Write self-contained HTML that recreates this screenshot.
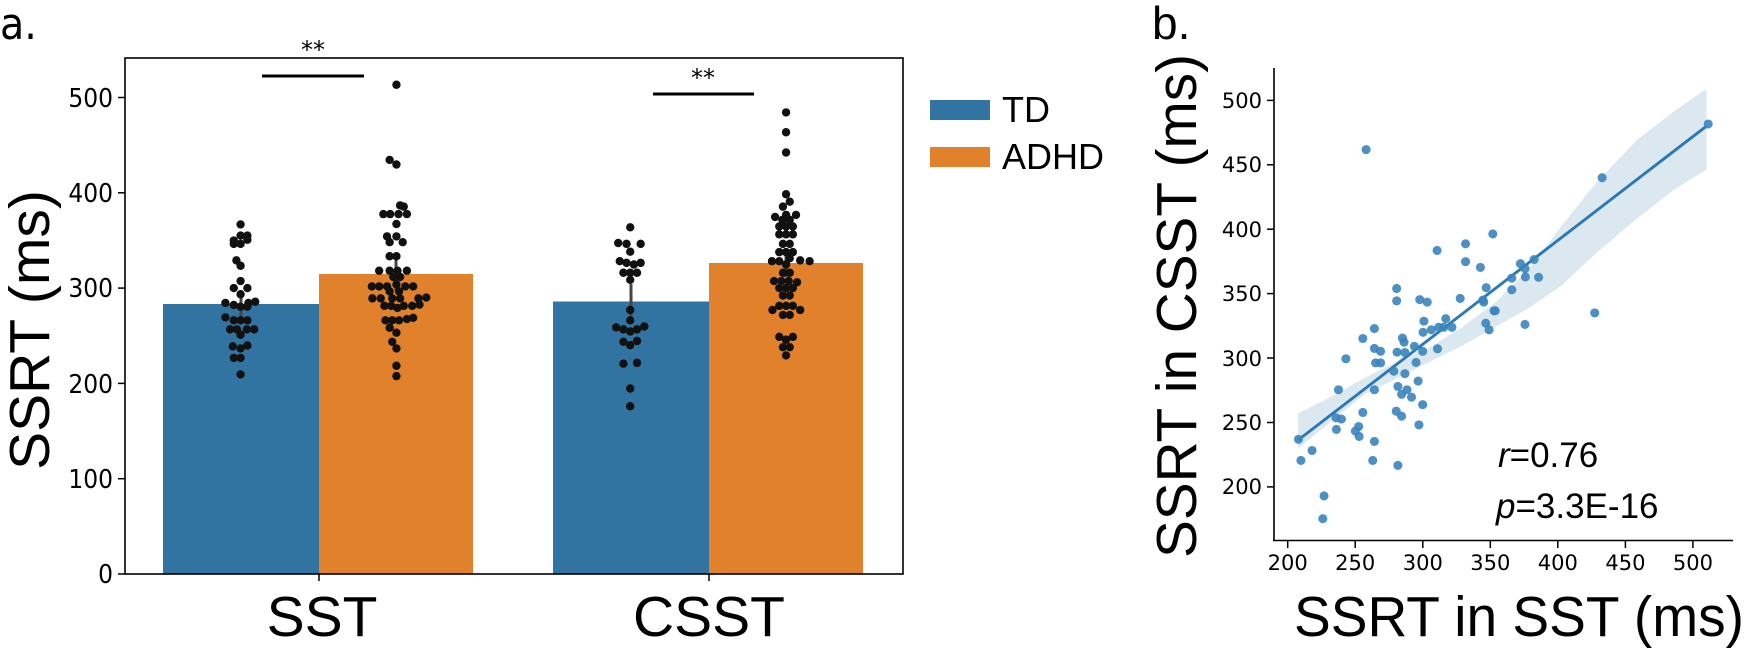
<!DOCTYPE html>
<html><head><meta charset="utf-8"><style>
html,body{margin:0;padding:0;background:#fff;}
svg{display:block;}
</style></head><body>
<svg width="1747" height="648" viewBox="0 0 1747 648" xmlns="http://www.w3.org/2000/svg">
<!-- Panel a -->
<text x="0" y="39" font-family="DejaVu Sans Condensed, DejaVu Sans, sans-serif" font-size="44">a.</text>
<!-- bars -->
<rect x="163" y="304" width="156" height="270" fill="#3274a1"/>
<rect x="319" y="274" width="154" height="300" fill="#e1812c"/>
<rect x="553" y="301.5" width="156" height="272.5" fill="#3274a1"/>
<rect x="709" y="263" width="154" height="311" fill="#e1812c"/>
<!-- error bars -->
<g stroke="#444" stroke-width="3">
<line x1="241" y1="292" x2="241" y2="322"/>
<line x1="396" y1="258" x2="396" y2="290"/>
<line x1="631" y1="284" x2="631" y2="318"/>
<line x1="786" y1="248" x2="786" y2="277"/>
</g>
<!-- frame -->
<rect x="125" y="58" width="778" height="516" fill="none" stroke="#000" stroke-width="1.6"/>
<!-- y ticks -->
<g stroke="#000" stroke-width="1.5">
<line x1="118" y1="574" x2="125" y2="574"/><line x1="118" y1="478.7" x2="125" y2="478.7"/>
<line x1="118" y1="383.4" x2="125" y2="383.4"/><line x1="118" y1="288.1" x2="125" y2="288.1"/>
<line x1="118" y1="192.8" x2="125" y2="192.8"/><line x1="118" y1="97.5" x2="125" y2="97.5"/>
<line x1="319" y1="574" x2="319" y2="581"/><line x1="709" y1="574" x2="709" y2="581"/>
</g>
<g font-family="DejaVu Sans Condensed, DejaVu Sans, sans-serif" font-size="26" text-anchor="end" fill="#000">
<text x="113" y="583">0</text><text x="113" y="488">100</text><text x="113" y="393">200</text>
<text x="113" y="297">300</text><text x="113" y="202">400</text><text x="113" y="107">500</text>
</g>
<g font-family="Liberation Sans, sans-serif" font-size="57" text-anchor="middle" fill="#000">
<text x="322" y="636">SST</text><text x="709" y="636">CSST</text>
<text transform="translate(49,330) rotate(-90)">SSRT (ms)</text>
</g>
<!-- significance -->
<g stroke="#000" stroke-width="3"><line x1="262" y1="76" x2="364" y2="76"/><line x1="653" y1="94" x2="754" y2="94"/></g>
<g font-family="DejaVu Sans, sans-serif" font-size="24" text-anchor="middle"><text x="313" y="58">**</text><text x="703" y="86">**</text></g>
<!-- legend -->
<rect x="930" y="100" width="60" height="20" fill="#3274a1"/>
<rect x="930" y="147" width="60" height="20" fill="#e1812c"/>
<g font-family="Liberation Sans, sans-serif" font-size="36" fill="#000"><text x="1002" y="122">TD</text><text x="1002" y="169">ADHD</text></g>
<!-- swarm dots (zoom coordinates) -->
<g transform="scale(0.523,0.4133)" fill="#111">
<g id="sw">
<!-- SST TD -->
<ellipse cx="460" cy="543" rx="8" ry="10.2"/><ellipse cx="460" cy="570" rx="8" ry="10.2"/><ellipse cx="473" cy="570" rx="8" ry="10.2"/>
<ellipse cx="447" cy="582" rx="8" ry="10.2"/><ellipse cx="473" cy="580" rx="8" ry="10.2"/><ellipse cx="447" cy="590" rx="8" ry="10.2"/><ellipse cx="460" cy="590" rx="8" ry="10.2"/>
<ellipse cx="452" cy="630" rx="8" ry="10.2"/><ellipse cx="460" cy="643" rx="8" ry="10.2"/><ellipse cx="460" cy="680" rx="8" ry="10.2"/>
<ellipse cx="447" cy="697" rx="8" ry="10.2"/><ellipse cx="473" cy="697" rx="8" ry="10.2"/><ellipse cx="460" cy="712" rx="8" ry="10.2"/>
<ellipse cx="431" cy="733" rx="8" ry="10.2"/><ellipse cx="447" cy="738" rx="8" ry="10.2"/><ellipse cx="475" cy="733" rx="8" ry="10.2"/><ellipse cx="488" cy="730" rx="8" ry="10.2"/>
<ellipse cx="460" cy="742" rx="8" ry="10.2"/><ellipse cx="473" cy="742" rx="8" ry="10.2"/>
<ellipse cx="431" cy="768" rx="8" ry="10.2"/><ellipse cx="447" cy="775" rx="8" ry="10.2"/><ellipse cx="460" cy="775" rx="8" ry="10.2"/><ellipse cx="473" cy="775" rx="8" ry="10.2"/>
<ellipse cx="440" cy="797" rx="8" ry="10.2"/><ellipse cx="453" cy="797" rx="8" ry="10.2"/><ellipse cx="472" cy="797" rx="8" ry="10.2"/><ellipse cx="486" cy="797" rx="8" ry="10.2"/>
<ellipse cx="460" cy="810" rx="8" ry="10.2"/><ellipse cx="445" cy="838" rx="8" ry="10.2"/><ellipse cx="473" cy="836" rx="8" ry="10.2"/><ellipse cx="460" cy="843" rx="8" ry="10.2"/>
<ellipse cx="447" cy="866" rx="8" ry="10.2"/><ellipse cx="460" cy="866" rx="8" ry="10.2"/><ellipse cx="460" cy="906" rx="8" ry="10.2"/>
<!-- SST ADHD -->
<ellipse cx="758" cy="205" rx="8" ry="10.2"/><ellipse cx="745" cy="387" rx="8" ry="10.2"/><ellipse cx="758" cy="398" rx="8" ry="10.2"/>
<ellipse cx="765" cy="497" rx="8" ry="10.2"/><ellipse cx="772" cy="500" rx="8" ry="10.2"/>
<ellipse cx="733" cy="518" rx="8" ry="10.2"/><ellipse cx="746" cy="518" rx="8" ry="10.2"/><ellipse cx="762" cy="518" rx="8" ry="10.2"/><ellipse cx="778" cy="518" rx="8" ry="10.2"/>
<ellipse cx="758" cy="542" rx="8" ry="10.2"/><ellipse cx="740" cy="572" rx="8" ry="10.2"/><ellipse cx="758" cy="572" rx="8" ry="10.2"/>
<ellipse cx="745" cy="586" rx="8" ry="10.2"/><ellipse cx="770" cy="586" rx="8" ry="10.2"/><ellipse cx="745" cy="620" rx="8" ry="10.2"/><ellipse cx="758" cy="620" rx="8" ry="10.2"/>
<ellipse cx="725" cy="655" rx="8" ry="10.2"/><ellipse cx="745" cy="655" rx="8" ry="10.2"/><ellipse cx="760" cy="655" rx="8" ry="10.2"/><ellipse cx="778" cy="655" rx="8" ry="10.2"/>
<ellipse cx="752" cy="670" rx="8" ry="10.2"/><ellipse cx="765" cy="670" rx="8" ry="10.2"/><ellipse cx="758" cy="688" rx="8" ry="10.2"/>
<ellipse cx="711" cy="693" rx="8" ry="10.2"/><ellipse cx="725" cy="693" rx="8" ry="10.2"/><ellipse cx="740" cy="693" rx="8" ry="10.2"/><ellipse cx="775" cy="693" rx="8" ry="10.2"/><ellipse cx="790" cy="693" rx="8" ry="10.2"/>
<ellipse cx="745" cy="705" rx="8" ry="10.2"/><ellipse cx="763" cy="705" rx="8" ry="10.2"/>
<ellipse cx="712" cy="722" rx="8" ry="10.2"/><ellipse cx="728" cy="722" rx="8" ry="10.2"/><ellipse cx="750" cy="722" rx="8" ry="10.2"/><ellipse cx="765" cy="722" rx="8" ry="10.2"/><ellipse cx="800" cy="722" rx="8" ry="10.2"/><ellipse cx="815" cy="720" rx="8" ry="10.2"/>
<ellipse cx="735" cy="740" rx="8" ry="10.2"/><ellipse cx="748" cy="740" rx="8" ry="10.2"/><ellipse cx="760" cy="745" rx="8" ry="10.2"/><ellipse cx="772" cy="740" rx="8" ry="10.2"/><ellipse cx="788" cy="740" rx="8" ry="10.2"/><ellipse cx="802" cy="737" rx="8" ry="10.2"/>
<ellipse cx="737" cy="775" rx="8" ry="10.2"/><ellipse cx="750" cy="775" rx="8" ry="10.2"/><ellipse cx="763" cy="775" rx="8" ry="10.2"/><ellipse cx="778" cy="772" rx="8" ry="10.2"/><ellipse cx="790" cy="769" rx="8" ry="10.2"/>
<ellipse cx="745" cy="793" rx="8" ry="10.2"/><ellipse cx="758" cy="805" rx="8" ry="10.2"/><ellipse cx="750" cy="827" rx="8" ry="10.2"/><ellipse cx="758" cy="843" rx="8" ry="10.2"/>
<ellipse cx="758" cy="885" rx="8" ry="10.2"/><ellipse cx="758" cy="910" rx="8" ry="10.2"/>
<!-- CSST TD -->
<ellipse cx="1205" cy="550" rx="8" ry="10.2"/><ellipse cx="1182" cy="588" rx="8" ry="10.2"/><ellipse cx="1198" cy="590" rx="8" ry="10.2"/><ellipse cx="1225" cy="590" rx="8" ry="10.2"/>
<ellipse cx="1205" cy="609" rx="8" ry="10.2"/><ellipse cx="1185" cy="632" rx="8" ry="10.2"/><ellipse cx="1198" cy="636" rx="8" ry="10.2"/><ellipse cx="1225" cy="636" rx="8" ry="10.2"/><ellipse cx="1212" cy="640" rx="8" ry="10.2"/>
<ellipse cx="1192" cy="660" rx="8" ry="10.2"/><ellipse cx="1205" cy="660" rx="8" ry="10.2"/><ellipse cx="1218" cy="660" rx="8" ry="10.2"/><ellipse cx="1205" cy="677" rx="8" ry="10.2"/>
<ellipse cx="1205" cy="750" rx="8" ry="10.2"/><ellipse cx="1205" cy="775" rx="8" ry="10.2"/>
<ellipse cx="1178" cy="792" rx="8" ry="10.2"/><ellipse cx="1192" cy="797" rx="8" ry="10.2"/><ellipse cx="1218" cy="797" rx="8" ry="10.2"/><ellipse cx="1232" cy="790" rx="8" ry="10.2"/><ellipse cx="1205" cy="802" rx="8" ry="10.2"/>
<ellipse cx="1192" cy="827" rx="8" ry="10.2"/><ellipse cx="1218" cy="825" rx="8" ry="10.2"/><ellipse cx="1205" cy="835" rx="8" ry="10.2"/>
<ellipse cx="1192" cy="880" rx="8" ry="10.2"/><ellipse cx="1218" cy="878" rx="8" ry="10.2"/><ellipse cx="1205" cy="940" rx="8" ry="10.2"/><ellipse cx="1205" cy="983" rx="8" ry="10.2"/>
<!-- CSST ADHD -->
<ellipse cx="1503" cy="272" rx="8" ry="10.2"/><ellipse cx="1503" cy="320" rx="8" ry="10.2"/><ellipse cx="1503" cy="369" rx="8" ry="10.2"/>
<ellipse cx="1503" cy="470" rx="8" ry="10.2"/><ellipse cx="1510" cy="488" rx="8" ry="10.2"/><ellipse cx="1497" cy="500" rx="8" ry="10.2"/>
<ellipse cx="1482" cy="525" rx="8" ry="10.2"/><ellipse cx="1503" cy="520" rx="8" ry="10.2"/><ellipse cx="1522" cy="520" rx="8" ry="10.2"/><ellipse cx="1496" cy="532" rx="8" ry="10.2"/><ellipse cx="1510" cy="532" rx="8" ry="10.2"/>
<ellipse cx="1490" cy="548" rx="8" ry="10.2"/><ellipse cx="1503" cy="548" rx="8" ry="10.2"/><ellipse cx="1516" cy="548" rx="8" ry="10.2"/>
<ellipse cx="1490" cy="567" rx="8" ry="10.2"/><ellipse cx="1503" cy="567" rx="8" ry="10.2"/><ellipse cx="1516" cy="567" rx="8" ry="10.2"/>
<ellipse cx="1497" cy="590" rx="8" ry="10.2"/><ellipse cx="1510" cy="590" rx="8" ry="10.2"/>
<ellipse cx="1490" cy="610" rx="8" ry="10.2"/><ellipse cx="1503" cy="610" rx="8" ry="10.2"/><ellipse cx="1516" cy="610" rx="8" ry="10.2"/>
<ellipse cx="1476" cy="632" rx="8" ry="10.2"/><ellipse cx="1490" cy="632" rx="8" ry="10.2"/><ellipse cx="1510" cy="625" rx="8" ry="10.2"/><ellipse cx="1530" cy="630" rx="8" ry="10.2"/><ellipse cx="1548" cy="632" rx="8" ry="10.2"/>
<ellipse cx="1503" cy="640" rx="8" ry="10.2"/><ellipse cx="1497" cy="660" rx="8" ry="10.2"/><ellipse cx="1510" cy="660" rx="8" ry="10.2"/>
<ellipse cx="1480" cy="680" rx="8" ry="10.2"/><ellipse cx="1494" cy="680" rx="8" ry="10.2"/><ellipse cx="1508" cy="680" rx="8" ry="10.2"/><ellipse cx="1524" cy="683" rx="8" ry="10.2"/>
<ellipse cx="1490" cy="697" rx="8" ry="10.2"/><ellipse cx="1503" cy="697" rx="8" ry="10.2"/><ellipse cx="1516" cy="697" rx="8" ry="10.2"/>
<ellipse cx="1497" cy="715" rx="8" ry="10.2"/><ellipse cx="1510" cy="715" rx="8" ry="10.2"/>
<ellipse cx="1490" cy="740" rx="8" ry="10.2"/><ellipse cx="1503" cy="740" rx="8" ry="10.2"/><ellipse cx="1516" cy="740" rx="8" ry="10.2"/>
<ellipse cx="1477" cy="750" rx="8" ry="10.2"/><ellipse cx="1530" cy="750" rx="8" ry="10.2"/><ellipse cx="1497" cy="762" rx="8" ry="10.2"/><ellipse cx="1510" cy="762" rx="8" ry="10.2"/>
<ellipse cx="1490" cy="815" rx="8" ry="10.2"/><ellipse cx="1516" cy="815" rx="8" ry="10.2"/><ellipse cx="1503" cy="822" rx="8" ry="10.2"/>
<ellipse cx="1497" cy="840" rx="8" ry="10.2"/><ellipse cx="1510" cy="840" rx="8" ry="10.2"/><ellipse cx="1503" cy="860" rx="8" ry="10.2"/>
</g>
</g>

<!-- Panel b -->
<text x="1152" y="39" font-family="Liberation Sans, sans-serif" font-size="46">b.</text>
<!-- CI band and line, in zoom coords -->
<g transform="translate(1100,0) scale(0.4126,0.4133)">
<polygon points="480,1000 560,960 640,915 720,875 800,840 880,790 960,730 1040,650 1120,545 1200,445 1300,340 1390,270 1470,215 1470,410 1390,460 1300,530 1200,615 1120,690 1040,745 960,790 880,835 800,875 720,915 640,955 560,1020 480,1085" fill="#3274a1" fill-opacity="0.17"/>
<line x1="480" y1="1065" x2="1470" y2="305" stroke="#2a78b5" stroke-width="7"/>
<g fill="#3a84bd" fill-opacity="0.9">
<circle cx="645" cy="362" r="11"/><circle cx="1474" cy="300" r="11"/><circle cx="1217" cy="430" r="11"/><circle cx="952" cy="566" r="11"/>
<circle cx="886" cy="590" r="11"/><circle cx="817" cy="606" r="11"/><circle cx="886" cy="633" r="11"/><circle cx="922" cy="647" r="11"/>
<circle cx="1019" cy="638" r="11"/><circle cx="1052" cy="628" r="11"/><circle cx="1030" cy="650" r="11"/><circle cx="1031" cy="670" r="11"/>
<circle cx="1063" cy="671" r="11"/><circle cx="998" cy="673" r="11"/><circle cx="936" cy="696" r="11"/><circle cx="998" cy="701" r="11"/>
<circle cx="719" cy="698" r="11"/><circle cx="719" cy="728" r="11"/><circle cx="775" cy="725" r="11"/><circle cx="793" cy="731" r="11"/>
<circle cx="873" cy="722" r="11"/><circle cx="928" cy="726" r="11"/><circle cx="930" cy="731" r="11"/><circle cx="955" cy="752" r="11"/>
<circle cx="958" cy="752" r="11"/><circle cx="1199" cy="757" r="11"/><circle cx="1030" cy="785" r="11"/><circle cx="935" cy="782" r="11"/>
<circle cx="943" cy="798" r="11"/><circle cx="785" cy="777" r="11"/><circle cx="783" cy="804" r="11"/><circle cx="803" cy="798" r="11"/>
<circle cx="821" cy="792" r="11"/><circle cx="838" cy="771" r="11"/><circle cx="833" cy="792" r="11"/><circle cx="853" cy="792" r="11"/>
<circle cx="665" cy="795" r="11"/><circle cx="637" cy="819" r="11"/><circle cx="733" cy="818" r="11"/><circle cx="737" cy="828" r="11"/>
<circle cx="762" cy="838" r="11"/><circle cx="818" cy="844" r="11"/><circle cx="665" cy="843" r="11"/><circle cx="680" cy="850" r="11"/>
<circle cx="720" cy="852" r="11"/><circle cx="739" cy="853" r="11"/><circle cx="782" cy="850" r="11"/><circle cx="596" cy="868" r="11"/>
<circle cx="668" cy="878" r="11"/><circle cx="680" cy="878" r="11"/><circle cx="766" cy="877" r="11"/><circle cx="712" cy="898" r="11"/>
<circle cx="739" cy="904" r="11"/><circle cx="771" cy="922" r="11"/><circle cx="722" cy="935" r="11"/><circle cx="744" cy="943" r="11"/>
<circle cx="731" cy="954" r="11"/><circle cx="755" cy="961" r="11"/><circle cx="578" cy="943" r="11"/><circle cx="665" cy="943" r="11"/>
<circle cx="782" cy="979" r="11"/><circle cx="585" cy="1014" r="11"/><circle cx="572" cy="1011" r="11"/><circle cx="718" cy="995" r="11"/>
<circle cx="731" cy="1007" r="11"/><circle cx="637" cy="998" r="11"/><circle cx="773" cy="1028" r="11"/><circle cx="627" cy="1032" r="11"/>
<circle cx="619" cy="1043" r="11"/><circle cx="628" cy="1056" r="11"/><circle cx="573" cy="1039" r="11"/><circle cx="665" cy="1068" r="11"/>
<circle cx="481" cy="1063" r="11"/><circle cx="514" cy="1090" r="11"/><circle cx="487" cy="1114" r="11"/><circle cx="661" cy="1114" r="11"/>
<circle cx="722" cy="1126" r="11"/><circle cx="543" cy="1200" r="11"/><circle cx="540" cy="1255" r="11"/>
</g>
</g>
<!-- spines -->
<g stroke="#000" stroke-width="1.6">
<line x1="1274" y1="68" x2="1274" y2="541"/>
<line x1="1273" y1="540.5" x2="1733" y2="540.5"/>
</g>
<g stroke="#000" stroke-width="1.5">
<line x1="1267" y1="100.4" x2="1274" y2="100.4"/><line x1="1267" y1="164.8" x2="1274" y2="164.8"/><line x1="1267" y1="229.2" x2="1274" y2="229.2"/>
<line x1="1267" y1="293.6" x2="1274" y2="293.6"/><line x1="1267" y1="358" x2="1274" y2="358"/><line x1="1267" y1="422.5" x2="1274" y2="422.5"/><line x1="1267" y1="486.9" x2="1274" y2="486.9"/>
<line x1="1287.7" y1="541" x2="1287.7" y2="548"/><line x1="1355.2" y1="541" x2="1355.2" y2="548"/><line x1="1422.8" y1="541" x2="1422.8" y2="548"/>
<line x1="1490.3" y1="541" x2="1490.3" y2="548"/><line x1="1557.8" y1="541" x2="1557.8" y2="548"/><line x1="1625.4" y1="541" x2="1625.4" y2="548"/><line x1="1692.9" y1="541" x2="1692.9" y2="548"/>
</g>
<g font-family="DejaVu Sans, sans-serif" font-size="21" fill="#000" text-anchor="end">
<text x="1262" y="108">500</text><text x="1262" y="172">450</text><text x="1262" y="237">400</text><text x="1262" y="301">350</text>
<text x="1262" y="366">300</text><text x="1262" y="430">250</text><text x="1262" y="494">200</text>
</g>
<g font-family="DejaVu Sans, sans-serif" font-size="21" fill="#000" text-anchor="middle">
<text x="1287.7" y="570">200</text><text x="1355.2" y="570">250</text><text x="1422.8" y="570">300</text><text x="1490.3" y="570">350</text>
<text x="1557.8" y="570">400</text><text x="1625.4" y="570">450</text><text x="1692.9" y="570">500</text>
</g>
<g font-family="Liberation Sans, sans-serif" fill="#000">
<text font-size="57" text-anchor="middle" transform="translate(1196,306) rotate(-90)" textLength="504" lengthAdjust="spacingAndGlyphs">SSRT in CSST (ms)</text>
<text font-size="57" x="1519" y="636" text-anchor="middle" textLength="450" lengthAdjust="spacingAndGlyphs">SSRT in SST (ms)</text>
<text font-size="35" x="1498" y="467"><tspan font-style="italic">r</tspan>=0.76</text>
<text font-size="35" x="1496" y="518"><tspan font-style="italic">p</tspan>=3.3E-16</text>
</g>
</svg>
</body></html>
